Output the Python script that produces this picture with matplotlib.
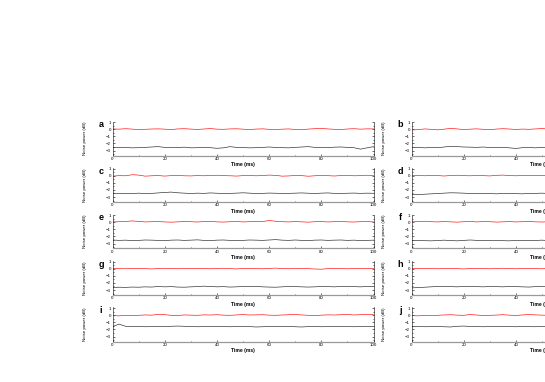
import numpy as np
import matplotlib
matplotlib.use('Agg')
import matplotlib.pyplot as plt
from matplotlib.ticker import MultipleLocator

plt.rcParams['font.family'] = ['Liberation Sans', 'DejaVu Sans']

# time axis, ms (one reading every 2.5 ms)
time_ms = np.linspace(0, 100, 41)

panel_labels = ['a', 'b', 'c', 'd', 'e', 'f', 'g', 'h', 'i', 'j']

# red traces (reference level), dB
red = {
    'a': [0.05, 0.02, 0.08, 0.03, -0.05, 0.0, 0.04, 0.06, 0.02, -0.03, 0.05, 0.08, 0.03, -0.02, 0.04,
          0.1, 0.02, 0.0, 0.05, 0.07, 0.02, -0.04, 0.03, 0.06, 0.0, -0.05, 0.02, 0.05, -0.02, -0.06,
          0.03, 0.08, 0.12, 0.05, 0.0, -0.03, 0.04, 0.08, 0.02, 0.06, 0.05],
    'b': [-0.1, -0.05, 0.05, 0.0, -0.08, 0.02, 0.12, 0.05, -0.03, 0.02, 0.06, 0.0, -0.05, 0.03, 0.08,
          0.04, -0.02, 0.03, 0.0, 0.05, 0.1, 0.04, -0.06, -0.1, 0.0, 0.05, 0.02, 0.08, 0.03, -0.04,
          0.02, 0.05, 0.0, 0.04, 0.07, 0.02, -0.02, 0.03, 0.05, 0.0, 0.02],
    'c': [-0.05, 0.02, 0.0, 0.15, 0.1, -0.05, 0.0, 0.03, -0.04, 0.02, 0.05, 0.0, -0.02, 0.03, 0.0,
          0.05, 0.08, 0.02, 0.0, -0.04, 0.02, 0.05, 0.0, 0.03, 0.1, 0.06, -0.05, -0.02, 0.04, 0.02,
          -0.06, 0.0, 0.05, 0.02, -0.03, 0.03, 0.06, 0.0, 0.02, 0.08, 0.03],
    'd': [0.02, 0.05, 0.0, 0.06, 0.03, -0.03, 0.04, 0.08, 0.02, 0.0, 0.05, 0.02, -0.02, 0.06, 0.1,
          0.03, 0.0, 0.05, 0.02, 0.07, 0.04, 0.0, 0.03, 0.06, 0.02, -0.03, 0.04, 0.05, 0.0, 0.03,
          0.06, 0.02, 0.0, 0.05, 0.08, 0.03, 0.0, 0.04, 0.02, 0.05, 0.03],
    'e': [0.05, 0.08, 0.1, 0.2, 0.12, 0.05, 0.08, 0.1, 0.05, 0.02, 0.06, 0.1, 0.08, 0.04, 0.1,
          0.12, 0.06, 0.03, 0.08, 0.1, 0.05, 0.08, 0.12, 0.1, 0.25, 0.15, 0.08, 0.05, 0.1, 0.06,
          0.02, 0.08, 0.1, 0.05, 0.08, 0.12, 0.06, 0.04, 0.08, 0.1, 0.05],
    'f': [0.05, 0.1, 0.15, 0.08, 0.05, 0.1, 0.06, 0.02, 0.08, 0.12, 0.05, 0.1, 0.08, 0.03, 0.06,
          0.1, 0.05, 0.08, 0.12, 0.06, 0.04, 0.08, 0.1, 0.05, 0.07, 0.1, 0.06, 0.03, 0.08, 0.1,
          0.05, 0.08, 0.06, 0.1, 0.05, 0.08, 0.1, 0.06, 0.04, 0.08, 0.05],
    'g': [0.02, 0.05, 0.0, 0.03, 0.06, 0.02, -0.02, 0.03, 0.08, 0.04, 0.0, 0.05, 0.02, 0.06, 0.03,
          0.0, 0.04, 0.08, 0.02, -0.02, 0.04, 0.06, 0.02, 0.0, 0.05, 0.1, 0.03, 0.0, 0.04, 0.06,
          0.02, -0.03, -0.06, 0.02, 0.05, 0.03, 0.0, 0.04, 0.02, 0.05, 0.03],
    'h': [0.0, 0.04, 0.02, 0.06, 0.0, 0.03, 0.05, 0.02, -0.02, 0.04, 0.06, 0.02, 0.0, 0.05, 0.08,
          0.03, 0.0, 0.04, 0.06, 0.02, 0.0, 0.05, 0.03, 0.07, 0.02, 0.0, 0.04, 0.06, 0.02, 0.05,
          0.03, 0.0, 0.04, 0.06, 0.02, 0.05, 0.03, 0.0, 0.04, 0.02, 0.03],
    'i': [-0.05, -0.08, -0.02, -0.05, 0.0, 0.05, 0.02, 0.12, 0.08, 0.0, -0.03, 0.05, 0.02, 0.0, 0.06,
          0.04, 0.08, 0.02, 0.0, 0.05, 0.1, 0.04, 0.06, 0.08, 0.02, 0.0, 0.04, 0.08, 0.1, 0.05,
          0.0, -0.05, 0.02, 0.06, 0.04, 0.08, 0.1, 0.05, 0.08, 0.12, 0.1],
    'j': [-0.05, -0.08, -0.02, -0.06, 0.0, 0.05, 0.08, 0.02, 0.0, 0.1, 0.04, -0.05, 0.0, 0.03, 0.08,
          0.02, -0.02, 0.05, 0.1, 0.06, 0.02, 0.0, 0.05, 0.08, 0.04, 0.0, 0.06, 0.08, 0.02, 0.05,
          0.03, 0.0, 0.06, 0.04, 0.02, 0.05, 0.08, 0.03, 0.0, 0.04, 0.05],
}

# black traces (squeezed level), dB
black = {
    'a': [-2.55, -2.6, -2.58, -2.62, -2.6, -2.55, -2.5, -2.45, -2.55, -2.6, -2.58, -2.52, -2.62, -2.6,
          -2.55, -2.6, -2.68, -2.62, -2.45, -2.55, -2.58, -2.62, -2.6, -2.55, -2.5, -2.56, -2.6, -2.62,
          -2.55, -2.5, -2.45, -2.55, -2.58, -2.6, -2.52, -2.5, -2.55, -2.6, -2.8, -2.62, -2.45],
    'b': [-2.6, -2.55, -2.62, -2.58, -2.6, -2.5, -2.4, -2.45, -2.5, -2.52, -2.55, -2.5, -2.58, -2.6,
          -2.55, -2.62, -2.7, -2.6, -2.58, -2.62, -2.55, -2.58, -2.5, -2.55, -2.6, -2.58, -2.55, -2.6,
          -2.58, -2.52, -2.55, -2.6, -2.58, -2.55, -2.6, -2.62, -2.55, -2.58, -2.6, -2.55, -2.58],
    'c': [-2.45, -2.5, -2.48, -2.52, -2.45, -2.5, -2.48, -2.42, -2.35, -2.3, -2.4, -2.45, -2.5, -2.45,
          -2.48, -2.42, -2.46, -2.5, -2.48, -2.45, -2.4, -2.45, -2.5, -2.48, -2.44, -2.46, -2.5, -2.48,
          -2.45, -2.42, -2.46, -2.5, -2.45, -2.42, -2.48, -2.5, -2.46, -2.44, -2.48, -2.45, -2.47],
    'd': [-2.6, -2.65, -2.6, -2.55, -2.5, -2.45, -2.4, -2.42, -2.45, -2.5, -2.48, -2.52, -2.5, -2.55,
          -2.5, -2.48, -2.52, -2.55, -2.5, -2.48, -2.45, -2.5, -2.52, -2.48, -2.5, -2.55, -2.52, -2.5,
          -2.48, -2.5, -2.52, -2.55, -2.5, -2.48, -2.52, -2.5, -2.48, -2.5, -2.52, -2.5, -2.48],
    'e': [-2.5, -2.55, -2.52, -2.58, -2.55, -2.5, -2.52, -2.55, -2.58, -2.52, -2.5, -2.55, -2.52, -2.48,
          -2.55, -2.58, -2.52, -2.5, -2.55, -2.6, -2.55, -2.5, -2.52, -2.55, -2.5, -2.45, -2.52, -2.55,
          -2.5, -2.55, -2.58, -2.52, -2.5, -2.55, -2.52, -2.5, -2.55, -2.52, -2.58, -2.55, -2.52],
    'f': [-2.6, -2.55, -2.6, -2.62, -2.58, -2.52, -2.58, -2.62, -2.55, -2.5, -2.55, -2.6, -2.58, -2.55,
          -2.6, -2.62, -2.55, -2.58, -2.6, -2.56, -2.52, -2.58, -2.6, -2.55, -2.58, -2.62, -2.58, -2.55,
          -2.6, -2.58, -2.55, -2.6, -2.58, -2.55, -2.6, -2.58, -2.62, -2.58, -2.55, -2.6, -2.58],
    'g': [-2.65, -2.6, -2.62, -2.58, -2.6, -2.55, -2.58, -2.5, -2.55, -2.52, -2.58, -2.6, -2.55, -2.52,
          -2.45, -2.5, -2.55, -2.52, -2.58, -2.55, -2.5, -2.52, -2.48, -2.55, -2.58, -2.6, -2.55, -2.5,
          -2.52, -2.55, -2.58, -2.55, -2.5, -2.52, -2.55, -2.5, -2.48, -2.52, -2.55, -2.5, -2.52],
    'h': [-2.7, -2.65, -2.6, -2.55, -2.5, -2.48, -2.52, -2.55, -2.5, -2.48, -2.52, -2.55, -2.5, -2.52,
          -2.55, -2.5, -2.52, -2.55, -2.58, -2.52, -2.5, -2.55, -2.52, -2.48, -2.52, -2.55, -2.5, -2.52,
          -2.55, -2.52, -2.5, -2.55, -2.52, -2.5, -2.55, -2.52, -2.5, -2.52, -2.55, -2.52, -2.5],
    'i': [-1.6, -1.25, -1.55, -1.6, -1.58, -1.62, -1.6, -1.58, -1.6, -1.55, -1.52, -1.55, -1.58, -1.62,
          -1.6, -1.55, -1.58, -1.6, -1.62, -1.58, -1.55, -1.6, -1.65, -1.62, -1.58, -1.6, -1.55, -1.58,
          -1.62, -1.65, -1.6, -1.58, -1.62, -1.6, -1.55, -1.58, -1.6, -1.62, -1.58, -1.55, -1.58],
    'j': [-1.6, -1.58, -1.62, -1.6, -1.58, -1.62, -1.65, -1.55, -1.52, -1.58, -1.6, -1.62, -1.6, -1.58,
          -1.55, -1.6, -1.62, -1.58, -1.6, -1.62, -1.58, -1.6, -1.55, -1.5, -1.55, -1.6, -1.58, -1.6,
          -1.62, -1.58, -1.6, -1.62, -1.58, -1.55, -1.6, -1.58, -1.62, -1.6, -1.58, -1.6, -1.58],
}

y_ticks = [1, 0, -1, -2, -3]
x_ticks = [0, 20, 40, 60, 80, 100]

FIG_W, FIG_H = 545, 382
fig = plt.figure(figsize=(FIG_W / 100, FIG_H / 100), dpi=100)

col_left_px = [112.5, 411.5]
ax_w_px = 261
ax_h_px = 34
row_top_px = [121.5, 168.0, 214.5, 261.0, 307.5]

for idx, lab in enumerate(panel_labels):
    row, col = idx // 2, idx % 2
    left = col_left_px[col] / FIG_W
    bottom = 1 - (row_top_px[row] + ax_h_px) / FIG_H
    ax = fig.add_axes([left, bottom, ax_w_px / FIG_W, ax_h_px / FIG_H])

    ax.plot(time_ms, red[lab], color='red', linewidth=0.45)
    ax.plot(time_ms, black[lab], color='#222222', linewidth=0.45)

    ax.set_xlim(0, 100)
    ax.set_ylim(-3.7, 1.1)
    ax.set_xticks(x_ticks)
    ax.set_yticks(y_ticks)
    ax.xaxis.set_minor_locator(MultipleLocator(10))
    ax.yaxis.set_minor_locator(MultipleLocator(0.5))
    ax.tick_params(which='both', direction='in', labelsize=3.2, pad=1,
                   width=0.4, right=True, top=False)
    ax.tick_params(which='major', length=1.6)
    ax.tick_params(which='minor', length=0.9)
    for s in ax.spines.values():
        s.set_linewidth(0.4)
    ax.spines['top'].set_visible(False)
    ax.spines['bottom'].set_linewidth(0.9)
    ax.spines['bottom'].set_color('#999999')

    ax.set_ylabel('Noise power (dB)', fontsize=3.2)
    ax.yaxis.set_label_coords(-25.5 / ax_w_px, 0.5)
    ax.set_xlabel('Time (ms)', fontsize=3.6, fontweight='bold', labelpad=1)
    ax.text(-11.5 / ax_w_px, 0.9, lab, transform=ax.transAxes, fontsize=6.5,
            fontweight='bold', ha='center', va='center')

fig.savefig('out.png', dpi=100)
